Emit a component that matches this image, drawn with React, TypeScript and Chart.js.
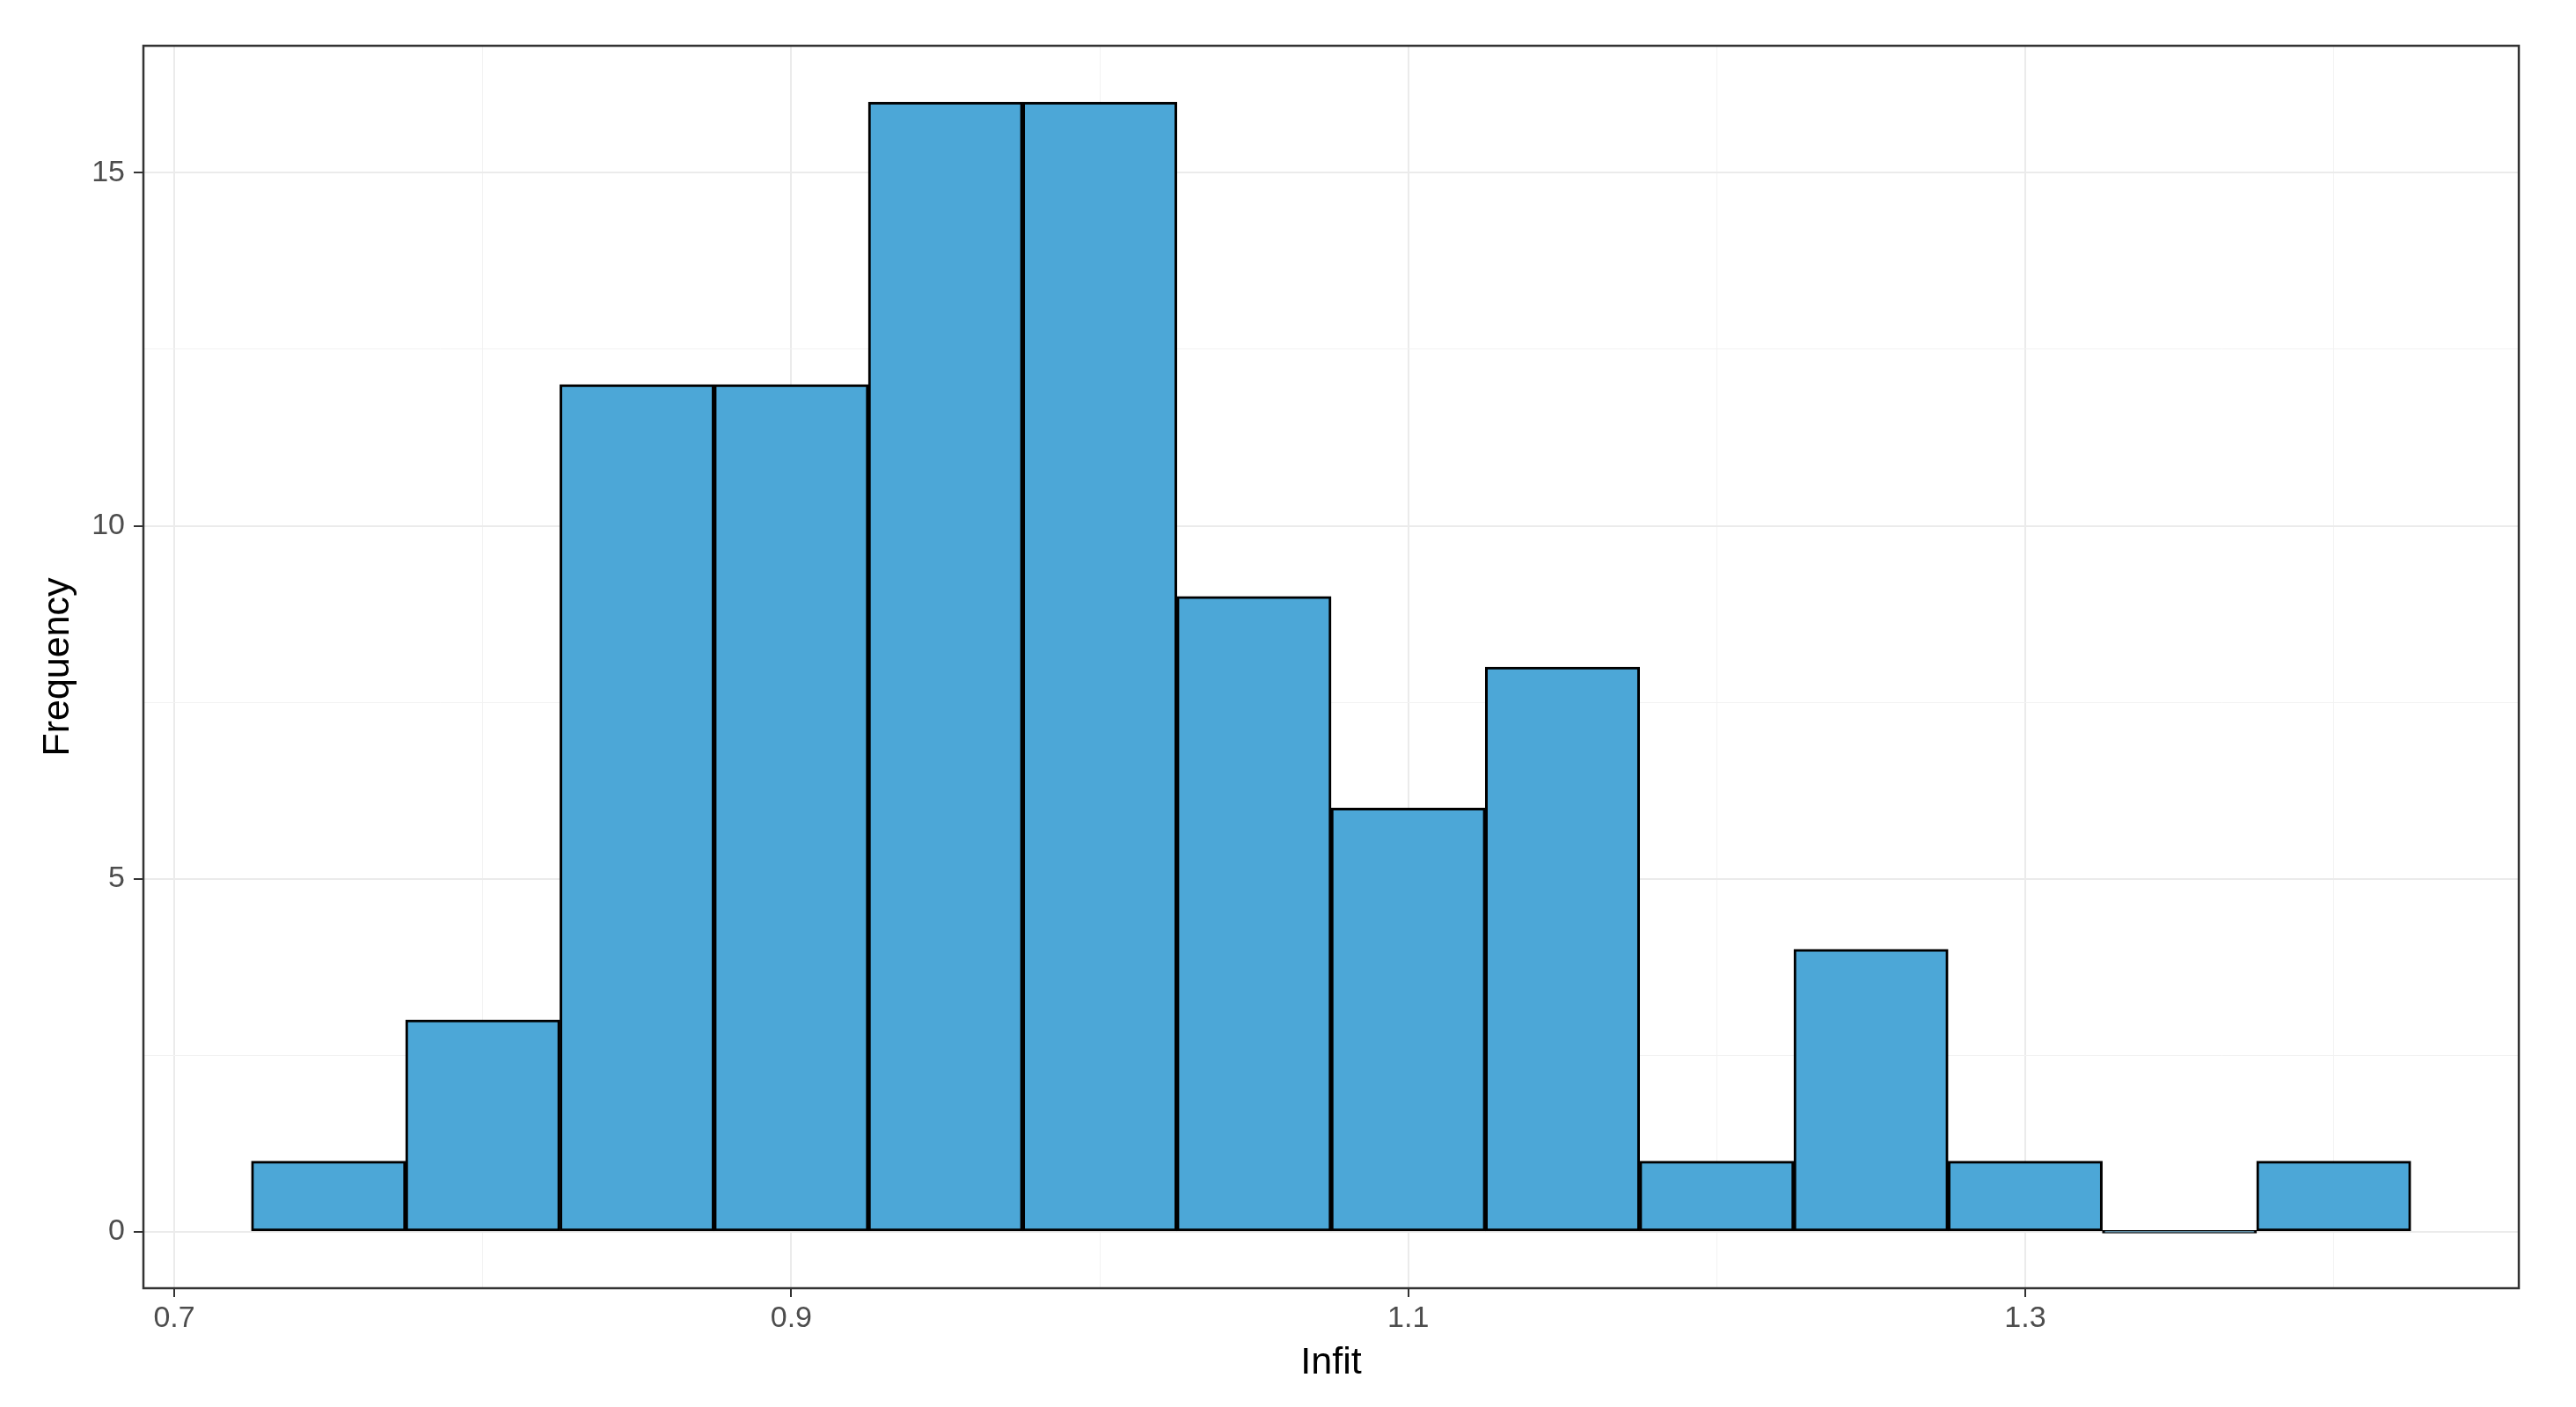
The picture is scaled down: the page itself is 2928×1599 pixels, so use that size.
import React, { useEffect, useRef } from "react";
import { Chart, registerables } from "chart.js";

Chart.register(...registerables);

// Histogram bins (width 0.05) — centers and counts
const binCenters = [0.75, 0.8, 0.85, 0.9, 0.95, 1.0, 1.05, 1.1, 1.15, 1.2, 1.25, 1.3, 1.35, 1.4];
const frequencies = [1, 3, 12, 12, 16, 16, 9, 6, 8, 1, 4, 1, 0, 1];

const xMajorTicks = [0.7, 0.9, 1.1, 1.3];
const xMinorTicks = [0.8, 1.0, 1.2, 1.4];
const yMajorTicks = [0, 5, 10, 15];
const yMinorTicks = [2.5, 7.5, 12.5];

const xTitle = "Infit";
const yTitle = "Frequency";

const FONT = "'Liberation Sans', Arial, Helvetica, sans-serif";
const BAR_FILL = "rgb(76,167,215)";

const isIn = (v: number, arr: number[]) => arr.some((m) => Math.abs(m - v) < 1e-9);

const panelBorder = {
  id: "panelBorder",
  afterDatasetsDraw(chart: any) {
    const { ctx, chartArea } = chart;
    const { left, top, right, bottom } = chartArea;
    ctx.save();
    ctx.strokeStyle = "#333333";
    ctx.lineWidth = 2.5;
    ctx.strokeRect(left, top, right - left, bottom - top);
    ctx.restore();
  },
};

export default function App() {
  const ref = useRef<HTMLCanvasElement | null>(null);

  useEffect(() => {
    document.body.style.margin = "0";
    const canvas = ref.current;
    if (!canvas) return;
    const chart = new Chart(canvas, {
      type: "bar",
      data: {
        datasets: [
          {
            data: binCenters.map((x, i) => ({ x, y: frequencies[i] })),
            backgroundColor: BAR_FILL,
            borderColor: "#000000",
            borderWidth: 3,
            borderSkipped: false,
            barPercentage: 1,
            categoryPercentage: 1,
            minBarLength: 3,
          } as any,
        ],
      },
      options: {
        responsive: false,
        animation: false,
        devicePixelRatio: 1,
        layout: { padding: { left: 0, top: 52, right: 65, bottom: 0 } },
        plugins: {
          legend: { display: false },
          tooltip: { enabled: false },
        },
        scales: {
          x: {
            type: "linear",
            offset: false,
            min: 0.69,
            max: 1.46,
            afterBuildTicks: (s: any) => {
              s.ticks = [...xMajorTicks, ...xMinorTicks]
                .sort((a, b) => a - b)
                .map((v) => ({ value: v }));
            },
            afterFit: (s: any) => {
              s.height = 135;
            },
            ticks: {
              autoSkip: false,
              maxRotation: 0,
              padding: 4,
              color: "#4D4D4D",
              font: { size: 34, family: FONT },
              callback: (v: any) => (isIn(Number(v), xMajorTicks) ? Number(v).toFixed(1) : ""),
            },
            grid: {
              offset: false,
              color: (c: any) => (c.tick && isIn(c.tick.value, xMajorTicks) ? "#EBEBEB" : "#F2F2F2"),
              lineWidth: (c: any) => (c.tick && isIn(c.tick.value, xMajorTicks) ? 2 : 1),
              tickColor: (c: any) => (c.tick && isIn(c.tick.value, xMajorTicks) ? "#333333" : "rgba(0,0,0,0)"),
              tickLength: 10,
              tickWidth: 2,
            },
            border: { display: false },
            title: {
              display: true,
              text: xTitle,
              color: "#000000",
              font: { size: 43, family: FONT },
              padding: { top: 0, bottom: 24 },
            },
          } as any,
          y: {
            type: "linear",
            min: -0.8,
            max: 16.8,
            afterBuildTicks: (s: any) => {
              s.ticks = [...yMajorTicks, ...yMinorTicks]
                .sort((a, b) => a - b)
                .map((v) => ({ value: v }));
            },
            afterFit: (s: any) => {
              s.width = 163;
            },
            ticks: {
              autoSkip: false,
              padding: 10,
              color: "#4D4D4D",
              font: { size: 34, family: FONT },
              callback: (v: any) => (isIn(Number(v), yMajorTicks) ? String(v) : ""),
            },
            grid: {
              color: (c: any) => (c.tick && isIn(c.tick.value, yMajorTicks) ? "#EBEBEB" : "#F2F2F2"),
              lineWidth: (c: any) => (c.tick && isIn(c.tick.value, yMajorTicks) ? 2 : 1),
              tickColor: (c: any) => (c.tick && isIn(c.tick.value, yMajorTicks) ? "#333333" : "rgba(0,0,0,0)"),
              tickLength: 11,
              tickWidth: 2,
            },
            border: { display: false },
            title: {
              display: true,
              text: yTitle,
              color: "#000000",
              font: { size: 43, family: FONT },
              padding: { top: 40, bottom: 0 },
            },
          } as any,
        },
      },
      plugins: [panelBorder],
    });
    return () => chart.destroy();
  }, []);

  return (
    <canvas
      ref={ref}
      width={2928}
      height={1599}
      style={{ display: "block", width: "2928px", height: "1599px" }}
    />
  );
}
